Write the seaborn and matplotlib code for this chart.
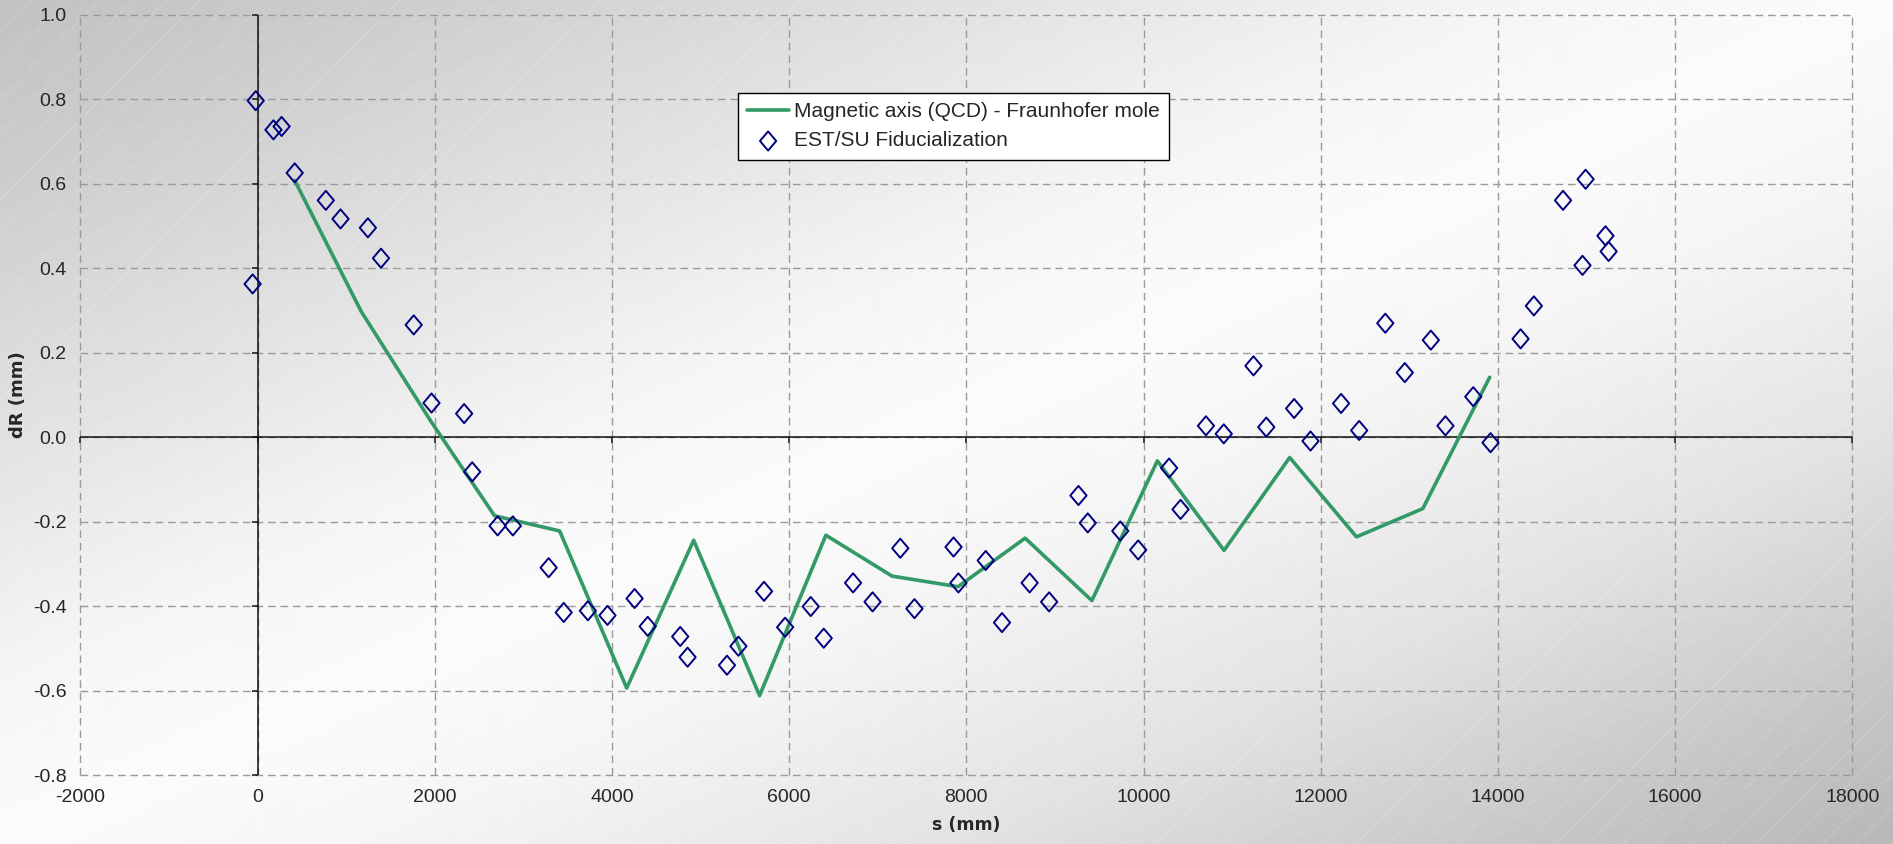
import numpy as np
import pandas as pd
import matplotlib
matplotlib.use("Agg")
import matplotlib.pyplot as plt
import seaborn as sns
from matplotlib.ticker import MultipleLocator, FormatStrFormatter
from matplotlib.patches import Rectangle
from matplotlib.path import Path

# magnetic axis, Fraunhofer mole (QCD)
line_s = [420, 1170, 1950, 2675, 3410, 4167, 4923, 5667, 6415, 7163,
          7907, 8664, 9417, 10156, 10909, 11650, 12404, 13153, 13907]
line_dr = [0.608, 0.298, 0.040, -0.186, -0.222, -0.594, -0.244, -0.612, -0.232, -0.329,
           -0.354, -0.239, -0.387, -0.056, -0.268, -0.048, -0.236, -0.169, 0.142]

# EST/SU fiducialization points
fid_s = [-20, -55, 180, 272, 420, 771, 937, 1246, 1394, 1763, 1964, 2332,
         2423, 2710, 2882, 3286, 3456, 3729, 3950, 4256,
         4404, 4771, 4854, 5299, 5428, 5717, 5955, 6244, 6391, 6722,
         6942, 7255, 7415, 7856, 7911, 8219, 8403, 8715, 8935, 9266,
         9371, 9738, 9940, 10289, 10418, 10705, 10906,
         11241, 11386, 11700, 11885, 12230, 12434, 12729, 12949, 13243,
         13408, 13722, 13917,
         14256, 14406, 14735, 14955, 14990, 15214, 15250]
fid_dr = [0.797, 0.363, 0.728, 0.736, 0.626, 0.561, 0.517, 0.496, 0.424, 0.266, 0.081, 0.056,
          -0.082, -0.210, -0.210, -0.309, -0.415, -0.411, -0.422, -0.382,
          -0.448, -0.472, -0.521, -0.540, -0.495, -0.365, -0.450, -0.401, -0.476, -0.345,
          -0.390, -0.263, -0.406, -0.260, -0.345, -0.292, -0.439, -0.345, -0.390, -0.138,
          -0.203, -0.222, -0.267, -0.073, -0.171, 0.027, 0.008,
          0.169, 0.024, 0.068, -0.009, 0.080, 0.016, 0.270, 0.153, 0.230,
          0.027, 0.096, -0.013,
          0.233, 0.311, 0.561, 0.407, 0.611, 0.477, 0.440]

x_ticks = list(range(-2000, 18001, 2000))
y_ticks = [-0.8, -0.6, -0.4, -0.2, 0.0, 0.2, 0.4, 0.6, 0.8, 1.0]

line_df = pd.DataFrame({"s": line_s, "dR": line_dr})
fid_df = pd.DataFrame({"s": fid_s, "dR": fid_dr})

sns.set_style("white")
plt.rcParams["font.family"] = ["Liberation Sans", "DejaVu Sans"]
plt.rcParams["axes.unicode_minus"] = False
plt.rcParams["hatch.linewidth"] = 0.5

fig = plt.figure(figsize=(18.93, 8.44), dpi=100)

# grey diagonal gradient behind everything
bg = fig.add_axes([0, 0, 1, 1], zorder=-2)
H, W = 422, 946
yy, xx = np.mgrid[0:H, 0:W]
u = (xx / (W - 1) + yy / (H - 1)) / 2
shade = np.interp(u, [0, 0.1, 0.25, 0.4, 0.5, 0.6, 0.75, 0.9, 1.0],
                  [0.76, 0.80, 0.88, 0.96, 0.985, 0.96, 0.89, 0.78, 0.72])
bg.imshow(shade, cmap="gray", vmin=0, vmax=1, extent=[0, 1, 0, 1], aspect="auto")
bg.add_patch(Rectangle((0, 0), 1, 1, transform=bg.transAxes, facecolor="none",
                       edgecolor=(1, 1, 1, 0.25), linewidth=0, hatch="/"))
bg.set_axis_off()

ax = fig.add_axes([0.04242, 0.08175, 0.93608, 0.90048])
ax.set_facecolor("none")

sns.lineplot(data=line_df, x="s", y="dR", ax=ax, sort=False, estimator=None,
             color="#339966", linewidth=2.6, label="Magnetic axis (QCD) - Fraunhofer mole",
             zorder=3)

diamond = Path([(0, 1), (0.85, 0), (0, -1), (-0.85, 0), (0, 1)], closed=True)
sns.scatterplot(data=fid_df, x="s", y="dR", ax=ax, marker=diamond, s=190,
                facecolor="none", edgecolor="#000080", linewidth=1.4,
                label="EST/SU Fiducialization", zorder=4)

ax.set_xlim(-2000, 18000)
ax.set_ylim(-0.8, 1.0)
ax.xaxis.set_major_locator(MultipleLocator(2000))
ax.yaxis.set_major_locator(MultipleLocator(0.2))
ax.xaxis.set_major_formatter(FormatStrFormatter("%d"))
ax.yaxis.set_major_formatter(FormatStrFormatter("%.1f"))
ax.tick_params(axis="x", length=0, pad=10, labelsize=14)
ax.tick_params(axis="y", length=0, pad=10, labelsize=14)

ax.grid(True, color="#9a9a9a", linewidth=1.0, linestyle=(0, (5.5, 3.5)))
for gl in ax.get_xgridlines() + ax.get_ygridlines():
    gl.set_clip_on(False)
for sp in ax.spines.values():
    sp.set_visible(False)

# axes crossing at zero, with small tick marks
ax.axhline(0, color="#111111", linewidth=1.1, zorder=2)
ax.axvline(0, color="#111111", linewidth=1.1, zorder=2)
ax.plot(np.zeros(len(y_ticks)), y_ticks, ls="none", marker=0, ms=4, mew=1.1,
        color="#111111", zorder=2, clip_on=False)
ax.plot(x_ticks, np.zeros(len(x_ticks)), ls="none", marker=3, ms=4, mew=1.1,
        color="#111111", zorder=2, clip_on=False)

ax.set_xlabel("s (mm)", fontsize=12.5, fontweight="bold", family="DejaVu Sans", labelpad=7)
ax.set_ylabel("dR (mm)", fontsize=13, fontweight="bold", family="DejaVu Sans", labelpad=4)

handles, labels = ax.get_legend_handles_labels()
leg = ax.legend(handles, labels, loc="upper left", bbox_to_anchor=(0.3711, 0.8978),
                borderaxespad=0, frameon=True, fancybox=False, framealpha=1,
                facecolor="white", edgecolor="black",
                prop={"family": ["Liberation Sans", "DejaVu Sans"], "size": 15},
                handlelength=2.0, handletextpad=0.25, borderpad=0.45, labelspacing=0.5)
leg.get_frame().set_linewidth(1.0)

fig.savefig("out.png", dpi=100)
